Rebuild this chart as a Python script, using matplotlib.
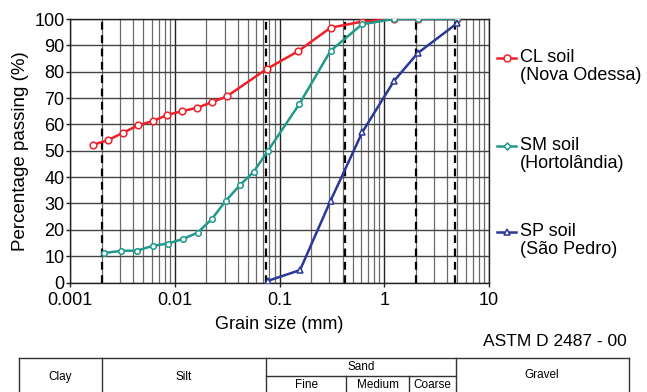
"""Grain size distribution curves for three soils (ASTM D 2487)."""

import matplotlib
matplotlib.use("Agg")
import matplotlib.pyplot as plt
from matplotlib.lines import Line2D
from matplotlib.ticker import FixedLocator, FixedFormatter, LogLocator, NullFormatter

plt.rcParams["font.family"] = ["Liberation Sans", "DejaVu Sans"]

# data
cl_size = [0.00164, 0.0023, 0.00324, 0.00443, 0.0062, 0.0085, 0.0117, 0.0163, 0.0226, 0.0313,
           0.0753, 0.151, 0.307, 0.614, 1.24, 2.08, 4.97]
cl_pass = [52.2, 54.0, 56.9, 59.6, 61.3, 63.6, 65.0, 66.3, 68.4, 70.6,
           81.0, 87.8, 96.7, 99.0, 100, 100, 100]

sm_size = [0.00213, 0.00306, 0.00436, 0.00617, 0.00866, 0.0121, 0.0165, 0.0225, 0.0307, 0.0418,
           0.0569, 0.077, 0.155, 0.307, 0.614, 1.24, 2.08, 4.97]
sm_pass = [11.2, 12.0, 12.1, 13.9, 14.8, 16.6, 18.9, 24.0, 31.0, 36.9,
           42.1, 49.8, 67.8, 87.9, 98.0, 100, 100, 100]

sp_size = [0.077, 0.157, 0.307, 0.618, 1.24, 2.08, 4.97]
sp_pass = [0.6, 4.7, 31.0, 57.1, 76.5, 87.0, 98.4]

boundaries = [0.002, 0.075, 0.425, 2.0, 4.75]
x_ticks = [0.001, 0.01, 0.1, 1, 10]
x_labels = ["0.001", "0.01", "0.1", "1", "10"]
y_ticks = list(range(0, 101, 10))

W, H = 647, 392


def fx(x):
    return x / W


def fy(y):
    return 1 - y / H


fig = plt.figure(figsize=(6.47, 3.92), dpi=100)
ax = fig.add_axes([fx(70), fy(282.5), (489 - 70) / W, (282.5 - 19) / H])

ax.set_xscale("log")
ax.set_xlim(0.001, 10)
ax.set_ylim(0, 100)

ax.xaxis.set_major_locator(FixedLocator(x_ticks))
ax.xaxis.set_major_formatter(FixedFormatter(x_labels))
ax.xaxis.set_minor_locator(LogLocator(base=10, subs=range(2, 10), numticks=20))
ax.xaxis.set_minor_formatter(NullFormatter())
ax.set_yticks(y_ticks)

ax.grid(which="major", axis="x", color="#222222", linewidth=1.0)
ax.grid(which="minor", axis="x", color="#6a6a6a", linewidth=0.9)
ax.grid(which="major", axis="y", color="#444444", linewidth=1.0)
ax.set_axisbelow(True)

ax.tick_params(axis="both", which="major", labelsize=13, length=3, width=1, color="#222222")
ax.tick_params(axis="y", pad=1)
ax.tick_params(axis="x", pad=4)
ax.tick_params(axis="x", which="minor", length=0)
for spine in ax.spines.values():
    spine.set_color("#222222")
    spine.set_linewidth(1.0)

for b in boundaries:
    ax.axvline(b, color="black", linestyle=(0, (3.5, 2.5)), linewidth=1.6, zorder=2)

ax.plot(cl_size, cl_pass, color="#f0202a", linewidth=1.8, marker="o", markersize=4.8,
        markerfacecolor="white", markeredgecolor="#f0202a", markeredgewidth=1.1, zorder=4)
ax.plot(sm_size, sm_pass, color="#1f9a8c", linewidth=1.8, marker="o", markersize=4,
        markerfacecolor="white", markeredgecolor="#1f9a8c", markeredgewidth=1.1, zorder=4)
ax.plot(sp_size, sp_pass, color="#2a3898", linewidth=1.8, marker="^", markersize=5,
        markerfacecolor="white", markeredgecolor="#2a3898", markeredgewidth=1.1, zorder=4)

ax.set_xlabel("Grain size (mm)", fontsize=13, labelpad=5)
ax.set_ylabel("Percentage passing (%)", fontsize=13.5, labelpad=4)

# legend drawn by hand so the handle sits on the first text line
legend_items = [
    ("CL soil", "(Nova Odessa)", "#f0202a", "o", 5, 58),
    ("SM soil", "(Hortolândia)", "#1f9a8c", "D", 3.5, 146),
    ("SP soil", "(São Pedro)", "#2a3898", "^", 5, 232),
]
for name, place, color, marker, ms, ypx in legend_items:
    fig.add_artist(Line2D([fx(497), fx(516)], [fy(ypx), fy(ypx)], color=color, linewidth=1.8))
    fig.add_artist(Line2D([fx(506.5)], [fy(ypx)], color=color, marker=marker, markersize=ms,
                          markerfacecolor="white", markeredgecolor=color, markeredgewidth=1.1))
    fig.text(fx(520), fy(ypx), name, fontsize=13, va="center", ha="left")
    fig.text(fx(520), fy(ypx + 17), place, fontsize=13, va="center", ha="left")

fig.text(fx(627), fy(342), "ASTM D 2487 - 00", fontsize=12.5, ha="right", va="center")

# classification table under the plot
table_lines = [
    ([19, 629], [357.5, 357.5]),
    ([266, 456], [376, 376]),
    ([19, 19], [357.5, 392]),
    ([629, 629], [357.5, 392]),
    ([102, 102], [357.5, 392]),
    ([266, 266], [357.5, 392]),
    ([456, 456], [357.5, 392]),
    ([346, 346], [376, 392]),
    ([409, 409], [376, 392]),
]
for xs, ys in table_lines:
    fig.add_artist(Line2D([fx(v) for v in xs], [fy(v) for v in ys], color="#333333", linewidth=1.0))

table_labels = [
    ("Clay", 60.5, 377),
    ("Silt", 184, 377),
    ("Sand", 361, 366.5),
    ("Fine", 306, 385),
    ("Medium", 377.5, 385),
    ("Coarse", 432.5, 385),
    ("Gravel", 542, 375),
]
for label, xp, yp in table_labels:
    fig.text(fx(xp), fy(yp), label, fontsize=8.5, ha="center", va="center")

fig.savefig("out.png", dpi=100)
